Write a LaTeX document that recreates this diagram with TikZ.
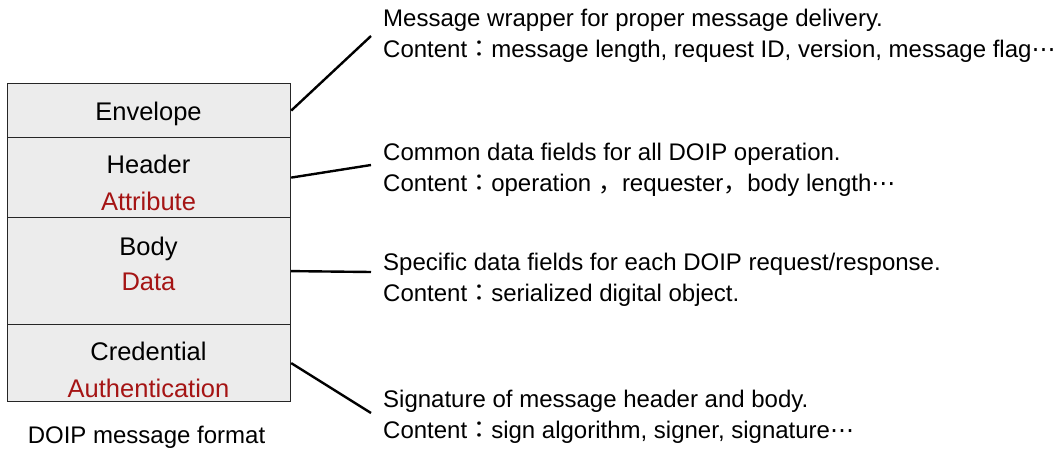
\documentclass[tikz,border=0pt]{standalone}
\usepackage{fontspec}
\setmainfont{Liberation Sans}
\newfontfamily\cjkfont{Noto Sans CJK JP}
\newfontfamily\symfont{DejaVu Sans}
\newcommand{\fcolon}{{\cjkfont ：}}
\newcommand{\fcomma}{{\cjkfont ，}}
\newcommand{\mydots}{{\symfont ⋯}}
\definecolor{boxfill}{RGB}{236,236,236}
\definecolor{darkred}{RGB}{165,20,20}
\begin{document}
\begin{tikzpicture}[x=1pt,y=-1pt,
  part/.style={draw=black!85, line width=1.2pt, fill=boxfill, minimum width=283pt,
    inner sep=0pt, anchor=north west},
  lbl/.style={font=\fontsize{25.5}{30}\selectfont, inner sep=0pt, anchor=base},
  sublbl/.style={lbl, text=darkred},
  desc/.style={font=\fontsize{24}{28}\selectfont, inner sep=0pt, anchor=base west},
  leader/.style={line width=2.4pt, black}]
\useasboundingbox (0,0) rectangle (1061,450);
% stacked message parts
\node[part, minimum height=54pt]  (env) at (7,83)  {};
\node[part, minimum height=80pt]  (hdr) at (7,137) {};
\node[part, minimum height=107pt] (bdy) at (7,217) {};
\node[part, minimum height=77pt]  (crd) at (7,324) {};
% labels inside the box
\node[lbl]    (envT) at (148.5,120) {Envelope};
\node[lbl]    (hdrT) at (148.5,173) {Header};
\node[sublbl] (hdrS) at (148.5,210) {Attribute};
\node[lbl]    (bdyT) at (148.5,255) {Body};
\node[sublbl] (bdyS) at (148.5,290) {Data};
\node[lbl]    (crdT) at (148.5,360) {Credential};
\node[sublbl] (crdS) at (148.5,397) {Authentication};
\node[lbl, font=\fontsize{24}{28}\selectfont] (cap) at (146.5,443) {DOIP message format};
% descriptions
\node[desc] (envA) at (383,26)  {Message wrapper for proper message delivery.};
\node[desc] (envB) at (383,57)  {Content\fcolon message length, request ID, version, message flag\mydots};
\node[desc] (hdrA) at (383,160) {Common data fields for all DOIP operation.};
\node[desc] (hdrB) at (383,191) {Content\fcolon operation \fcomma requester\fcomma body length\mydots};
\node[desc] (bdyA) at (383,270) {Specific data fields for each DOIP request/response.};
\node[desc] (bdyB) at (383,301) {Content\fcolon serialized digital object.};
\node[desc] (crdA) at (383,407) {Signature of message header and body.};
\node[desc] (crdB) at (383,438) {Content\fcolon sign algorithm, signer, signature\mydots};
% leader ends
\coordinate (envE) at (371,36);
\coordinate (hdrE) at (371,165);
\coordinate (bdyE) at (371,272);
\coordinate (crdE) at (371,413);
\draw[leader] (env.east) -- (envE);
\draw[leader] (hdr.east) -- (hdrE);
\draw[leader] (bdy.east) -- (bdyE);
\draw[leader] (crd.east) -- (crdE);
\end{tikzpicture}
\end{document}
